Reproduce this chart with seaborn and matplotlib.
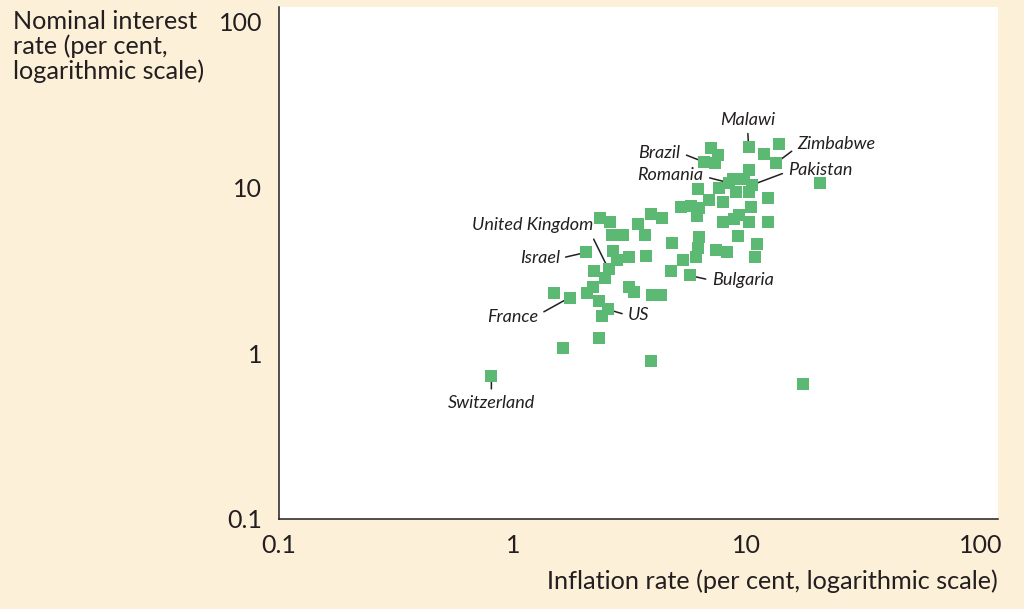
import matplotlib
matplotlib.use('Agg')
import matplotlib.pyplot as plt
import pandas as pd
import seaborn as sns

# inflation rate (%) and nominal interest rate (%)
inflation = [0.81, 1.64, 2.33, 3.89, 17.5, 1.50, 1.75, 2.07, 2.20, 2.33,
             2.55, 2.40, 3.13, 3.29, 3.93, 4.29, 2.22, 2.47, 2.57, 2.05,
             2.68, 2.78, 3.13, 3.70, 2.35, 2.60, 2.65, 2.95, 3.42, 3.89,
             4.33, 3.67, 4.78, 4.73, 5.71, 5.33, 6.05, 6.17, 6.24, 7.37,
             8.21, 9.15, 11.1, 10.9, 5.22, 5.76, 6.24, 6.88, 7.90, 6.11,
             6.17, 7.59, 8.97, 10.2, 8.71, 9.71, 10.6, 8.38, 10.2, 12.3,
             10.4, 9.24, 8.80, 10.2, 7.90, 12.3, 10.2, 13.8, 11.9, 13.4,
             20.7, 7.02, 7.52, 6.55, 7.30]
interest = [0.73, 1.07, 1.23, 0.90, 0.65, 2.30, 2.17, 2.30, 2.50, 2.06,
            1.84, 1.67, 2.50, 2.33, 2.24, 2.24, 3.12, 2.83, 3.21, 4.06,
            4.12, 3.68, 3.79, 3.84, 6.51, 6.24, 5.14, 5.21, 6.07, 6.97,
            6.51, 5.21, 4.66, 3.16, 2.95, 3.68, 3.79, 4.35, 5.00, 4.23,
            4.06, 5.07, 4.54, 3.79, 7.68, 7.79, 7.58, 8.47, 8.24, 6.78,
            9.86, 10.0, 9.46, 9.46, 11.2, 11.2, 10.4, 10.7, 12.8, 8.71,
            7.68, 6.88, 6.42, 6.24, 6.16, 6.16, 17.7, 18.4, 16.0, 14.1,
            10.7, 17.4, 15.8, 14.3, 14.1]

labelled = ['Switzerland', 'France', 'US', 'United Kingdom', 'Israel',
            'Bulgaria', 'Pakistan', 'Romania', 'Malawi', 'Zimbabwe', 'Brazil']
labelled_idx = [0, 6, 10, 18, 19, 34, 56, 57, 66, 69, 73]

ticks = [0.1, 1, 10, 100]
tick_labels = ['0.1', '1', '10', '100']

df = pd.DataFrame({'inflation': inflation, 'interest': interest})

bg = '#fdf0d9'
green = '#5cb974'
ink = '#231f20'

sns.set_style('white')
plt.rcParams['font.family'] = ['Lato', 'DejaVu Sans']

fig = plt.figure(figsize=(10.24, 6.09), dpi=100, facecolor=bg)
ax = fig.add_axes([279 / 1024, 1 - 519 / 609, (998 - 279) / 1024, (519 - 7) / 609])
ax.set_facecolor('white')

sns.scatterplot(data=df, x='inflation', y='interest', marker='s', s=78,
                color=green, linewidth=0, ax=ax, zorder=5)

ax.set_xscale('log')
ax.set_yscale('log')
ax.set_xlim(0.1, 119)
ax.set_ylim(0.1, 123)
ax.set_xticks(ticks, tick_labels)
ax.set_yticks(ticks, tick_labels)
ax.minorticks_off()
ax.tick_params(direction='in', length=13, width=1.1, color=ink, labelcolor=ink,
               labelsize=18, pad=11)
ax.tick_params(axis='y', pad=12)

for side in ['top', 'right']:
    ax.spines[side].set_visible(False)
for side in ['left', 'bottom']:
    ax.spines[side].set_color(ink)
    ax.spines[side].set_linewidth(1.1)

ax.set_xlabel('Inflation rate (per cent, logarithmic scale)', loc='right',
              fontsize=18.2, color=ink, labelpad=9)
ax.set_ylabel('')
fig.text(13 / 1024, 1 - 10 / 609, 'Nominal interest\nrate (per cent,\nlogarithmic scale)',
         ha='left', va='top', fontsize=18.2, color=ink, linespacing=1.08)

# text offset (pixels) and where the leader line leaves the text box
offsets = {
    'Switzerland': ((0, -27), (0.5, 1.0), 'center'),
    'France': ((-57, -19), (1.0, 0.6), 'center'),
    'US': ((31, -6), (0.0, 0.5), 'center'),
    'United Kingdom': ((-76, 44), (0.98, 0.0), 'center'),
    'Israel': ((-46, -6), (1.0, 0.5), 'center'),
    'Bulgaria': ((53, -5), (0.0, 0.5), 'center'),
    'Pakistan': ((68, 15), (0.0, 0.4), 'center'),
    'Romania': ((-58, 8), (1.0, 0.4), 'center'),
    'Malawi': ((-1, 27), (0.5, 0.0), 'center'),
    'Zimbabwe': ((60, 19), (0.0, 0.3), 'center'),
    'Brazil': ((-44, 9), (1.0, 0.5), 'center'),
}
for name, i in zip(labelled, labelled_idx):
    (dx, dy), rel, ha = offsets[name]
    ax.annotate(name, xy=(inflation[i], interest[i]), xytext=(dx, dy),
                textcoords='offset pixels', ha=ha, va='center',
                fontsize=13, style='italic', color=ink,
                arrowprops=dict(arrowstyle='-', color=ink, lw=1.1,
                                relpos=rel, shrinkA=2, shrinkB=0))

fig.savefig('out.png', dpi=100, facecolor=bg)
